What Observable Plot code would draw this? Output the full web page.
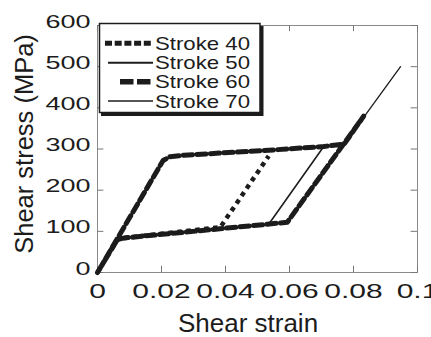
<!DOCTYPE html>
<html><head><meta charset="utf-8">
<script src="https://cdn.jsdelivr.net/npm/d3@7"></script>
<script src="https://cdn.jsdelivr.net/npm/@observablehq/plot@0.6"></script>
<style>
body{margin:0;background:#fff}
#wrap{position:relative;width:431px;height:337px;overflow:hidden}
#legend{position:absolute;left:0;top:0;pointer-events:none}
</style></head><body><div id="wrap"></div>
<script>
// ---- data ----
const xTicks = [0, 0.02, 0.04, 0.06, 0.08, 0.1];
const xTickLabels = ["0", "0.02", "0.04", "0.06", "0.08", "0.1"];
const yTicks = [0, 100, 200, 300, 400, 500, 600];
const seriesNames = ["Stroke 40", "Stroke 50", "Stroke 60", "Stroke 70"];

const strain40 = [0, 0.0062, 0.0085, 0.0384, 0.0535];
const stress40 = [0, 80, 84, 110, 283];

const strain50 = [0, 0.0062, 0.0085, 0.0535, 0.0707, 0.0535, 0.027, 0.0225, 0.0205, 0];
const stress50 = [0, 80, 84, 117, 306, 297, 285, 281, 272, 0];

const strain60 = [0, 0.0062, 0.0085, 0.0593, 0.0832, 0.0771, 0.0707, 0.0535, 0.027, 0.0225, 0.0205, 0];
const stress60 = [0, 80, 84, 122, 380, 312, 306, 297, 285, 281, 272, 0];

const strain70 = [0, 0.0062, 0.0085, 0.0593, 0.0947, 0.0771, 0.0707, 0.0535, 0.027, 0.0225, 0.0205, 0];
const stress70 = [0, 80, 84, 122, 500, 312, 306, 297, 285, 281, 272, 0];

const toRows = (xs, ys) => xs.map((x, i) => ({strain: x, stress: ys[i]}));
const rows = {
  "Stroke 40": toRows(strain40, stress40),
  "Stroke 50": toRows(strain50, stress50),
  "Stroke 60": toRows(strain60, stress60),
  "Stroke 70": toRows(strain70, stress70)
};

// ---- styles ----
const INK = "#1c1c1c";
const FONT = '"Liberation Sans", Arial, Helvetica, sans-serif';
const lineStyle = {
  "Stroke 40": {strokeWidth: 4.5, strokeDasharray: "4.5,4.5", strokeLinecap: "butt"},
  "Stroke 50": {strokeWidth: 1.6},
  "Stroke 60": {strokeWidth: 5, strokeDasharray: "9,4.5"},
  "Stroke 70": {strokeWidth: 1.3}
};
const drawOrder = ["Stroke 60", "Stroke 40", "Stroke 50", "Stroke 70"];

const chart = Plot.plot({
  width: 431, height: 337,
  marginLeft: 97, marginRight: 14, marginTop: 25, marginBottom: 65,
  style: {fontFamily: FONT, background: "white", color: INK},
  x: {domain: [0, 0.1]},
  y: {domain: [0, 600]},
  marks: [
    Plot.frame({stroke: "#8a8a8a"}),
    Plot.ruleX(xTicks, {x: d => d, y1: 0, y2: 15, stroke: "#777"}),
    Plot.ruleX(xTicks, {x: d => d, y1: 585, y2: 600, stroke: "#777"}),
    Plot.ruleY(yTicks, {y: d => d, x1: 0, x2: 0.002, stroke: "#777"}),
    Plot.ruleY(yTicks, {y: d => d, x1: 0.098, x2: 0.1, stroke: "#777"}),
    Plot.axisX({ticks: xTicks, tickSize: 0, tickPadding: 11, fontSize: 20,
      tickFormat: d => xTickLabels[xTicks.indexOf(d)], label: null}),
    Plot.axisY({ticks: yTicks, tickSize: 0, tickPadding: 7, fontSize: 19, dy: -4, label: null}),
    ...drawOrder.map(name => Plot.line(rows[name], {
      x: "strain", y: "stress", stroke: INK, strokeLinejoin: "round", ...lineStyle[name]
    })),
    Plot.text(["Shear strain"], {text: d => d, frameAnchor: "bottom", textAnchor: "middle",
      lineAnchor: "bottom", dy: 59, dx: -9.5, fontSize: 26, ariaLabel: "x-title"}),
    Plot.text(["Shear stress (MPa)"], {text: d => d, frameAnchor: "left", textAnchor: "middle",
      lineAnchor: "bottom", rotate: -90, dx: -65, dy: -5, fontSize: 25.5, ariaLabel: "y-title"})
  ]
});

const wrap = document.getElementById("wrap");
wrap.appendChild(chart);

function stretch(root, sel, factor) {
  root.querySelectorAll(sel).forEach(t => {
    const w = t.getComputedTextLength();
    t.setAttribute("textLength", w * factor);
    t.setAttribute("lengthAdjust", "spacingAndGlyphs");
  });
}
stretch(chart, 'g[aria-label="x-axis tick label"] text', 1.5);
stretch(chart, 'g[aria-label="y-axis tick label"] text', 1.42);
stretch(chart, 'g[aria-label="x-title"] text', 1.1);
stretch(chart, 'g[aria-label="y-title"] text', 1.03);

// ---- legend ----
const leg = d3.select(wrap).append("svg").attr("id", "legend")
  .attr("width", 431).attr("height", 337);
leg.append("rect").attr("x", 101).attr("y", 26).attr("width", 162.5).attr("height", 90).attr("fill", INK);
leg.append("rect").attr("x", 99.5).attr("y", 23.5).attr("width", 160.5).attr("height", 89)
  .attr("fill", "white").attr("stroke", INK).attr("stroke-width", 1.5);
const rowY = [43.3, 62.7, 81.7, 101];
const sample = {
  "Stroke 40": {x1: 105, w: 5, dash: "7,2.7"},
  "Stroke 50": {x1: 108, w: 2, dash: null},
  "Stroke 60": {x1: 120, w: 5.5, dash: "13.5,3.5"},
  "Stroke 70": {x1: 108, w: 1.5, dash: null}
};
seriesNames.forEach((name, i) => {
  const s = sample[name];
  leg.append("line").attr("x1", s.x1).attr("x2", 153).attr("y1", rowY[i]).attr("y2", rowY[i])
    .attr("stroke", INK).attr("stroke-width", s.w).attr("stroke-dasharray", s.dash);
  leg.append("text").attr("x", 155).attr("y", rowY[i] + 6.6).text(name)
    .attr("font-family", FONT).attr("font-size", 18.5).attr("fill", INK).attr("class", "legtext");
});
stretch(leg.node(), "text.legtext", 1.2);
</script></body></html>
